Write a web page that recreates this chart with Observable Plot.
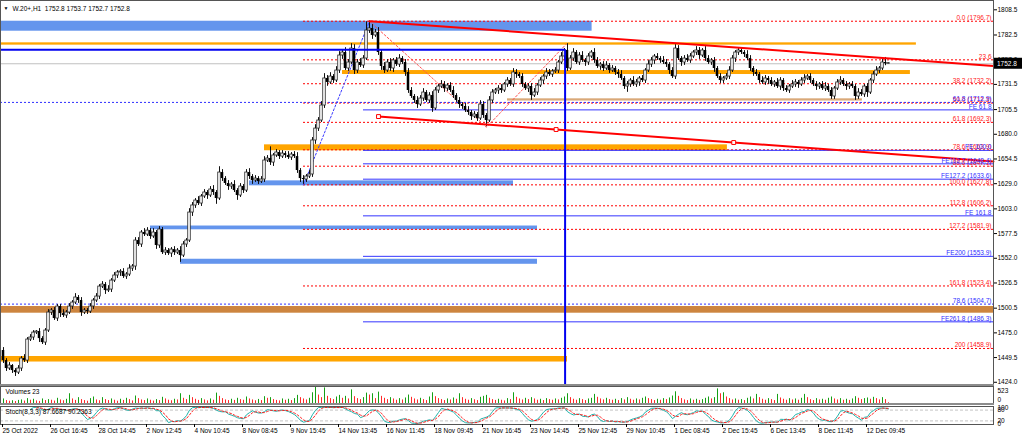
<!DOCTYPE html>
<html><head><meta charset="utf-8">
<script src="https://cdn.jsdelivr.net/npm/d3@7"></script>
<script src="https://cdn.jsdelivr.net/npm/@observablehq/plot@0.6"></script>
<style>
body{margin:0;background:#fff;}
#wrap{position:relative;width:1024px;height:440px;overflow:hidden;background:#fff;font-family:"Liberation Sans",Arial,sans-serif;}
#wrap svg{position:absolute;left:0;}
.sep{position:absolute;left:0;width:994px;height:2px;background:#8c8c8c;}
</style></head><body><div id="wrap"></div>
<script>
// ---------- DATA ----------
const header = "W.20+,H1  1752.8 1753.7 1752.7 1752.8";
const volumeTitle = "Volumes 23";
const stochTitle = "Stoch(8,3,3) 87.6687 90.2363";
const lastPrice = 1752.8;
const firstOpen = 1456.8;
const closes = [
1446.4,1438.2,1441.3,1436.1,1434.0,1438.2,1448.5,1446.4,1468.1,1470.2,1475.3,1476.4,1469.1,1465.0,1477.4,1496.0,
1498.1,1489.8,1502.2,1494.9,1492.9,1496.0,1502.2,1506.3,1511.5,1508.4,1496.0,1498.1,1497.0,1502.2,1508.4,1512.5,
1522.8,1524.9,1518.7,1519.7,1529.0,1534.2,1537.3,1538.3,1533.2,1535.2,1541.4,1543.5,1570.3,1566.2,1578.6,1576.5,
1580.6,1574.5,1578.6,1565.2,1581.7,1557.9,1560.0,1556.9,1561.0,1557.9,1560.0,1554.8,1566.2,1570.3,1599.2,1606.5,
1611.6,1608.5,1615.8,1619.9,1616.8,1623.0,1619.9,1613.7,1640.5,1634.3,1629.2,1626.1,1628.1,1621.9,1616.8,1626.1,
1621.9,1640.5,1636.4,1632.3,1634.3,1631.2,1633.3,1652.9,1655.0,1650.8,1658.1,1661.2,1657.0,1660.1,1658.1,1656.0,
1659.1,1657.0,1642.6,1634.3,1633.3,1636.4,1638.5,1673.6,1685.9,1694.2,1709.7,1737.6,1733.5,1739.6,1735.5,1745.8,
1761.3,1764.4,1747.9,1754.1,1768.5,1745.8,1754.1,1751.0,1758.2,1787.1,1789.2,1782.0,1785.1,1764.4,1750.0,1745.8,
1754.1,1747.9,1756.2,1752.0,1758.2,1754.1,1743.8,1725.2,1719.0,1714.9,1710.7,1716.9,1723.1,1714.9,1720.0,1706.6,
1725.2,1729.3,1731.4,1727.2,1730.3,1725.2,1720.0,1714.9,1710.7,1708.7,1704.5,1702.5,1698.3,1700.4,1696.3,1710.7,
1699.4,1694.2,1714.9,1723.1,1725.2,1727.2,1725.2,1731.4,1735.5,1731.4,1743.8,1741.7,1739.6,1731.4,1727.2,1729.3,
1720.0,1723.1,1730.3,1735.5,1739.6,1743.8,1741.7,1744.8,1745.8,1754.1,1760.3,1766.5,1747.9,1758.2,1764.4,1754.1,
1761.3,1756.2,1754.1,1760.3,1764.4,1756.2,1750.0,1752.0,1747.9,1751.0,1745.8,1747.9,1743.8,1741.7,1737.6,1729.3,
1731.4,1735.5,1731.4,1733.5,1737.6,1735.5,1745.8,1752.0,1756.2,1760.3,1758.2,1756.2,1754.1,1752.0,1745.8,1739.6,
1768.5,1758.2,1754.1,1758.2,1756.2,1760.3,1764.4,1766.5,1761.3,1766.5,1758.2,1754.1,1756.2,1747.9,1739.6,1735.5,
1737.6,1739.6,1745.8,1758.2,1764.4,1766.5,1764.4,1762.3,1758.2,1747.9,1743.8,1741.7,1735.5,1733.5,1737.6,1735.5,
1731.4,1733.5,1729.3,1735.5,1727.2,1725.2,1729.3,1731.4,1733.5,1731.4,1735.5,1737.6,1739.6,1735.5,1731.4,1729.3,
1731.4,1727.2,1729.3,1725.2,1719.0,1727.2,1733.5,1735.5,1731.4,1729.3,1731.4,1729.3,1719.0,1723.1,1721.1,1729.3,
1723.1,1735.5,1741.7,1745.8,1747.9,1754.1,1752.8,1752.8];
const wickUp = [
3,2,3,1,2,3,2,4,2,3,2,1,3,2,2,3,
2,3,2,2,4,2,3,2,4,2,3,2,2,3,2,3,
2,3,2,4,2,3,2,2,3,2,4,2,3,3,2,4,
3,2,4,2,3,2,3,2,2,3,2,4,3,2,4,3,
2,4,2,3,2,3,4,2,6,3,2,3,2,4,2,3,
2,3,4,2,3,2,3,4,3,12,2,3,2,3,2,4,
2,3,4,2,3,2,4,3,4,3,4,5,3,4,2,4,
4,3,5,3,5,4,3,4,3,9,7.5,4,3,5,3,4,
3,4,2,3,4,2,3,4,3,2,4,3,4,2,3,4,
3,2,4,3,2,3,4,2,3,2,3,4,2,3,2,4,
3,2,4,3,2,3,4,2,3,2,4,3,2,3,2,3,
3,4,2,3,2,4,3,2,3,2,4,2,7,3,4,2,
3,4,2,3,2,4,3,2,3,4,2,3,2,3,4,2,
3,2,4,3,2,3,2,4,3,2,3,2,4,3,2,3,
4,3,2,3,4,3,2,4,3,2,4,3,2,3,2,3,
2,3,4,3,2,2,3,2,4,3,2,3,2,4,3,2,
3,2,4,3,2,3,2,4,3,2,3,4,2,3,2,3,
2,3,4,2,3,2,3,4,2,3,2,3,2,4,3,2,
3,2,3,4,2,3,5.2,0.9];
const wickDown = [
3,3,2,3,4,2,3,2,3,2,3,2,4,2,3,2,
3,2,3,4,2,3,2,3,2,3,4,2,3,2,3,2,
3,2,4,2,3,2,3,4,2,3,2,3,4,2,3,2,
2,3,2,4,3,2,3,2,4,3,2,7,2,3,2,4,
3,2,3,2,4,2,3,6,2,3,2,4,3,2,5,2,
3,2,3,4,2,3,2,3,2,3,4,2,3,2,3,2,
3,2,3,4,5,3,2,3,4,3,2,3,4,2,3,2,
3,4,2,3,2,4,3,2,3,2,3,4,2,3,4,3,
2,3,4,2,3,2,4,3,2,3,4,2,3,2,3,4,
2,3,2,4,3,2,3,2,4,3,2,3,4,2,3,2,
3,6.5,2,3,2,4,3,2,3,2,3,4,2,3,2,4,
5,2,3,2,4,3,2,3,2,3,2,4,3,2,3,2,
3,2,4,3,2,3,2,4,3,2,3,2,3,4,2,3,
6,3,2,3,4,2,3,2,3,4,2,3,2,3,4,2,
3,2,4,3,2,3,2,3,4,2,3,2,3,4,2,3,
3,2,3,2,4,3,2,3,2,3,4,2,3,2,3,4,
2,3,2,4,3,2,3,2,3,4,2,3,2,3,2,4,
3,2,3,2,3,3,2,3,2,4,3,2,4,3,2,3,
5,2,3,2,3,2,2,0.1];
const volumes = [
140,90,70,85,60,95,110,75,150,100,130,80,65,140,90,120,
100,75,160,110,85,130,300,140,95,180,120,90,70,150,200,110,
85,180,120,90,140,100,70,130,95,160,120,80,230,150,110,90,
140,100,75,120,90,190,140,100,85,130,110,300,160,120,250,180,
130,95,150,110,80,140,100,320,220,150,110,90,130,95,160,120,
100,200,140,110,85,125,90,210,160,180,120,95,80,140,100,130,
90,150,250,180,140,110,160,330,523,260,180,480,220,150,120,200,
250,160,220,140,420,210,150,120,180,320,260,300,150,350,220,160,
120,180,140,100,150,110,170,260,190,140,110,160,120,90,200,330,
210,150,120,90,140,110,170,130,300,180,130,100,150,115,90,190,
220,250,160,120,95,130,100,80,150,120,330,190,140,110,160,120,
180,140,100,130,90,150,120,100,140,110,160,200,300,180,130,100,
150,120,90,140,160,280,190,140,110,160,120,100,130,90,150,110,
180,130,100,140,110,160,200,150,120,90,130,100,150,120,170,230,
360,220,150,110,90,140,100,130,95,120,160,200,140,180,450,300,
330,200,150,110,140,100,120,90,160,200,140,280,180,130,100,150,
120,90,280,170,130,100,150,110,140,100,160,280,180,120,90,150,
110,130,100,160,200,140,110,150,100,130,95,140,210,160,120,150,
170,130,190,150,110,180,120,23];
const xTickBars = [0,16,32,48,64,80,96,112,128,144,160,176,192,208,224,240,256,272,288];
const xTickLabels = ["25 Oct 2022","26 Oct 16:45","28 Oct 14:45","2 Nov 12:45","4 Nov 10:45","8 Nov 08:45","9 Nov 15:45","14 Nov 13:45","16 Nov 11:45","18 Nov 09:45","21 Nov 16:45","23 Nov 14:45","25 Nov 12:45","29 Nov 10:45","1 Dec 08:45","2 Dec 15:45","6 Dec 13:45","8 Dec 11:45","12 Dec 09:45"];
const yTicks = [1808.5,1782.5,1757.0,1731.5,1705.5,1680.0,1654.5,1629.0,1603.0,1577.5,1552.0,1526.5,1500.5,1475.0,1449.5,1424.0];
const stochLabels = [{v:100,t:"100"},{v:80,t:"80"},{v:20,t:"20"},{v:0,t:"0"}];

// zones [bar start, bar end, price low, price high]
const blueZones = [[-1,196.2,1786.4,1796.7],[82,170,1626.8,1631.9],[49,178,1581.4,1585.3],[59,178,1545.8,1551.0]];
const orangeZones = [[-1,304.3,1772.0,1774.4],[113,302.3,1741.7,1745.8],[87,241.3,1663.0,1669.1],[-1,188,1444.9,1450.6]];
const brownZones = [[-1,330,1495.3,1502.2]];
const tanZones = [[168,286.3,1714.3,1716.6]];

// red Fibonacci retracement (anchors: bar, price)
const fibRetAnchors = [[100,1627.8],[122,1796.7]];
const fibRetLevels = [0,23.6,38.2,50,61.8,78.6,88.6,100,112.8,127.2,161.8,200];
const fibRetLabels = ["0.0 (1796.7)","23.6","38.2 (1732.2)","50.0 (1712.3)","61.8 (1692.3)","78.6 (1663.9)","88.6 (1647.1)","100.0 (1627.8)","112.8 (1606.2)","127.2 (1581.9)","161.8 (1523.4)","200 (1458.9)"];
// blue long-term Fibonacci levels
const blueFibPrices = [1712.9,1504.7];
const blueFibLabels = ["61.8 (1712.9)","78.6 (1504.7)"];
// Fibonacci expansion A, B, C
const feAnchors = [[122,1796.7],[161,1687.3],[187.5,1772.8]];
const feLevels = [61.8,100,112.7,127.2,161.8,200,261.8];
const feLabels = ["FE 61.8","FE 100.0","FE112.7 (1648.4)","FE127.2 (1633.6)","FE 161.8","FE200 (1553.9)","FE261.8 (1486.3)"];
const feStartBar = 120;
// trend lines (two anchors each, ray to the right)
const upperTrend = [[122,1796.7],[243.4,1769.8]];
const lowerTrend = [[125,1698.3],[243.4,1671.5]];
// blue horizontal + vertical line
const blueLevel = {bar1:-1, bar2:187.2, price:1767.2};

// ---------- BUILD ----------
const xDomain = [-1,330];
const yDomain = [1421.7,1818.1];
const FONT = "Liberation Sans, Arial, sans-serif";
const n = closes.length;
const candles = closes.map((c,i)=>{
  const o = i===0 ? firstOpen : closes[i-1];
  return {i, o, c, h: Math.max(o,c)+(wickUp[i]||0), l: Math.min(o,c)-(wickDown[i]||0)};
});
const bull = candles.filter(d=>d.c>=d.o), bear = candles.filter(d=>d.c<d.o);
const [[rb0,rp100],[rb1,rp0]] = fibRetAnchors;
const fibRet = fibRetLevels.map((lev,k)=>({price: rp0-(rp0-rp100)*lev/100, label: fibRetLabels[k]}));
const blueFib = blueFibPrices.map((p,k)=>({price:p,label:blueFibLabels[k]}));
const [A,B,C] = feAnchors;
const fe = feLevels.map((lev,k)=>({price: C[1]-(A[1]-B[1])*lev/100, label: feLabels[k]}));
function ray(t){const s=(t[1][1]-t[0][1])/(t[1][0]-t[0][0]);return [t[0],[xDomain[1], t[0][1]+s*(xDomain[1]-t[0][0])]];}
const upRay = ray(upperTrend), loRay = ray(lowerTrend);
const loSquares = [lowerTrend[0],[(lowerTrend[0][0]+lowerTrend[1][0])/2,(lowerTrend[0][1]+lowerTrend[1][1])/2],lowerTrend[1]];
const zoneRect = (data, fill)=>Plot.rect(data,{x1:d=>d[0],x2:d=>d[1],y1:d=>d[2],y2:d=>d[3],fill});
const common = {width:1024, marginLeft:0, marginRight:31, style:{fontFamily:FONT, fontSize:"6.5px", background:"transparent", overflow:"visible"}};

const main = Plot.plot({
  ...common, height:384, marginTop:0, marginBottom:0,
  x:{domain:xDomain, axis:null},
  y:{domain:yDomain, axis:null},
  marks:[
    zoneRect(blueZones,"#6495ed"),
    zoneRect(orangeZones,"#ffa500"),
    zoneRect(brownZones,"#cd853f"),
    zoneRect(tanZones,"#d9a878"),
    Plot.ruleY([lastPrice],{x1:xDomain[0],x2:xDomain[1],stroke:"#c0c0c0",strokeWidth:1}),
    Plot.ruleY(fibRet,{y:"price",x1:rb0,x2:xDomain[1],stroke:"#ff0000",strokeWidth:1,strokeDasharray:"2,2"}),
    Plot.ruleY(blueFib,{y:"price",x1:xDomain[0],x2:xDomain[1],stroke:"#2f2fff",strokeWidth:1,strokeDasharray:"2,2"}),
    Plot.ruleY(fe,{y:"price",x1:feStartBar,x2:xDomain[1],stroke:"#3535ff",strokeWidth:1}),
    Plot.line(fibRetAnchors,{x:d=>d[0],y:d=>d[1],stroke:"#3a3aff",strokeWidth:1,strokeDasharray:"2,2"}),
    Plot.line(feAnchors,{x:d=>d[0],y:d=>d[1],stroke:"#ff5050",strokeWidth:1,strokeDasharray:"2,2"}),
    Plot.ruleX(candles,{x:"i",y1:"l",y2:"h",stroke:"#111",strokeWidth:1}),
    Plot.rect(bull,{x1:d=>d.i-0.42,x2:d=>d.i+0.42,y1:"o",y2:d=>Math.abs(d.c-d.o)<0.5?d.o+0.6:d.c,fill:"#fff",stroke:"#222",strokeWidth:0.8}),
    Plot.rect(bear,{x1:d=>d.i-0.42,x2:d=>d.i+0.42,y1:"o",y2:"c",fill:"#000"}),
    Plot.ruleY([blueLevel],{y:"price",x1:"bar1",x2:"bar2",stroke:"#0000f0",strokeWidth:2}),
    Plot.ruleX([blueLevel],{x:"bar2",y1:"price",y2:yDomain[0],stroke:"#0000f0",strokeWidth:2}),
    Plot.line(upRay,{x:d=>d[0],y:d=>d[1],stroke:"#ff0000",strokeWidth:2}),
    Plot.line(loRay,{x:d=>d[0],y:d=>d[1],stroke:"#ff0000",strokeWidth:2}),
    Plot.dot(loSquares,{x:d=>d[0],y:d=>d[1],symbol:"square",r:2.2,stroke:"#ff0000",fill:"#fff",strokeWidth:1}),
    Plot.text(fibRet,{x:xDomain[1],y:"price",text:"label",textAnchor:"end",lineAnchor:"bottom",dx:-2,dy:-1,fill:"#ff2020",fontSize:6.5}),
    Plot.text(blueFib,{x:xDomain[1],y:"price",text:"label",textAnchor:"end",lineAnchor:"bottom",dx:-2,dy:-1,fill:"#2f2fff",fontSize:6.5}),
    Plot.text(fe,{x:xDomain[1],y:"price",text:"label",textAnchor:"end",lineAnchor:"bottom",dx:-2,dy:-1,fill:"#2f2fff",fontSize:6.5}),
    Plot.text(["▼"],{frameAnchor:"top-left",dx:3,dy:6,fontSize:5,fill:"#000",textAnchor:"start"}),
    Plot.text([header],{frameAnchor:"top-left",dx:12,dy:5.5,fontSize:6.5,fill:"#000",textAnchor:"start"}),
    Plot.axisY(yTicks,{anchor:"right",tickSize:3,tickPadding:1,fontSize:6.5,tickFormat:d=>d.toFixed(1),label:null,fill:"#000"}),
    Plot.frame({stroke:"#555"})
  ]
});
main.style.top = "0px";

// current-price box on the right axis
{
  const ys = main.scale("y"), xs = main.scale("x");
  const yy = ys.apply(lastPrice), xx = xs.apply(xDomain[1]) + 1;
  const g = d3.select(main).append("g");
  g.append("rect").attr("x",xx).attr("y",yy-5.5).attr("width",28).attr("height",11).attr("fill","#000");
  g.append("text").attr("x",xx+3).attr("y",yy+2.3).attr("text-anchor","start").attr("fill","#fff")
    .attr("font-size","6.5px").attr("font-family",FONT).text(lastPrice.toFixed(1));
}

const volData = volumes.map((v,i)=>({i,v,up: i===0 || v>volumes[i-1]}));
const vol = Plot.plot({
  ...common, height:17, marginTop:0, marginBottom:0,
  x:{domain:xDomain, axis:null},
  y:{domain:[0,523], axis:null},
  marks:[
    Plot.ruleX(volData.filter(d=>d.up),{x:"i",y1:0,y2:"v",stroke:"#16a016",strokeWidth:1}),
    Plot.ruleX(volData.filter(d=>!d.up),{x:"i",y1:0,y2:"v",stroke:"#ff2a2a",strokeWidth:1}),
    Plot.text([volumeTitle],{frameAnchor:"top-left",dx:5,dy:3,fontSize:6.5,fill:"#000",textAnchor:"start"}),
    Plot.text(["523"],{frameAnchor:"top-right",dx:4,dy:1.5,fontSize:6.5,fill:"#000",textAnchor:"start"}),
    Plot.text(["0"],{frameAnchor:"bottom-right",dx:4,dy:-2,fontSize:6.5,fill:"#000",textAnchor:"start"}),
    Plot.frame({stroke:"#555"})
  ]
});
vol.style.top = "386px";

// Stochastic (8,3,3) computed from the candles
const K=8, SL=3;
const stMain = new Array(n).fill(null), stSig = new Array(n).fill(null);
for(let i=K+SL-2;i<n;i++){
  let num=0, den=0;
  for(let j=i-SL+1;j<=i;j++){
    let ll=Infinity, hh=-Infinity;
    for(let k=j-K+1;k<=j;k++){ll=Math.min(ll,candles[k].l);hh=Math.max(hh,candles[k].h);}
    num+=candles[j].c-ll; den+=hh-ll;
  }
  stMain[i] = den>0 ? 100*num/den : 100;
}
for(let i=0;i<n;i++){ if(i>=2 && stMain[i]!=null && stMain[i-1]!=null && stMain[i-2]!=null) stSig[i]=(stMain[i]+stMain[i-1]+stMain[i-2])/3; }
const stData = stMain.map((v,i)=>({i,m:v,s:stSig[i]}));

const stoch = Plot.plot({
  ...common, height:35, marginTop:1, marginBottom:16,
  x:{domain:xDomain, axis:null},
  y:{domain:[0,100], axis:null},
  marks:[
    Plot.ruleY([20,80],{stroke:"#c4c4c4",strokeDasharray:"3,2",strokeWidth:1}),
    Plot.line(stData,{x:"i",y:"m",stroke:"#20b2aa",strokeWidth:1}),
    Plot.line(stData,{x:"i",y:"s",stroke:"#ff2020",strokeWidth:1,strokeDasharray:"2,2"}),
    Plot.text([stochTitle],{frameAnchor:"top-left",dx:5,dy:3,fontSize:6.5,fill:"#000",textAnchor:"start"}),
    Plot.text(stochLabels,{x:xDomain[1],y:d=>Math.min(94,Math.max(6,d.v)),text:"t",dx:4,textAnchor:"start",fontSize:6.5,fill:"#000"}),
    Plot.frame({stroke:"#555"}),
    Plot.axisX(xTickBars,{anchor:"bottom",tickSize:3,tickPadding:1,fontSize:6.5,textAnchor:"start",dx:-1,label:null,fill:"#000",tickFormat:d=>xTickLabels[xTickBars.indexOf(d)]})
  ]
});
stoch.style.top = "405px";

const wrap = document.getElementById("wrap");
wrap.appendChild(main); wrap.appendChild(vol); wrap.appendChild(stoch);
for (const t of [384,403]) { const s=document.createElement("div"); s.className="sep"; s.style.top=t+"px"; wrap.appendChild(s); }
</script></body></html>
